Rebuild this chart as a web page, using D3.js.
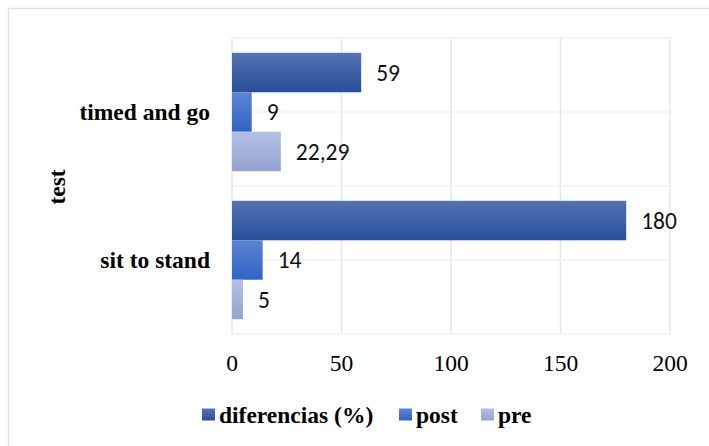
<!DOCTYPE html>
<html><head><meta charset="utf-8">
<script src="https://cdn.jsdelivr.net/npm/d3@7"></script>
<style>body{margin:0;background:#fff}svg{display:block}</style>
</head><body>
<svg id="c" width="709" height="446"></svg>
<script>
const categories = ["timed and go", "sit to stand"];
const seriesNames = ["diferencias (%)", "post", "pre"];
const diferencias = [59, 180];
const post = [9, 14];
const pre = [22.29, 5];
const labelText = [["59","9","22,29"],["180","14","5"]];
const xTicks = [0, 50, 100, 150, 200];

(function(){
const svg = d3.select("#c");
const defs = svg.append("defs");
const grads = [
  {id:"g0", top:"#5571b0", bot:"#284f9a"},
  {id:"g1", top:"#5d84d3", bot:"#2f63c6"},
  {id:"g2", top:"#b3c0e6", bot:"#93a2cf"}
];
grads.forEach(g=>{
  const lg = defs.append("linearGradient").attr("id",g.id).attr("x1",0).attr("y1",0).attr("x2",0).attr("y2",1);
  lg.append("stop").attr("offset","0%").attr("stop-color",g.top);
  lg.append("stop").attr("offset","100%").attr("stop-color",g.bot);
});

svg.append("path").attr("d","M8.5,446 L8.5,8.5 L709,8.5").attr("fill","none").attr("stroke","#dde2e8").attr("stroke-width",1.5);

const pl = 232, pr = 670, pt = 38, pb = 334;
const serif = "'Liberation Serif', 'Times New Roman', serif";
const x = d3.scaleLinear().domain([0,200]).range([pl,pr]);
const y = d3.scaleBand().domain(categories).range([pt,pb]);
const inner = d3.scaleBand().domain(seriesNames).range([0,y.bandwidth()]).paddingOuter(0.5*0.75).paddingInner(0);

const grid = svg.append("g");
xTicks.forEach(t=>{
  grid.append("line").attr("x1",x(t)).attr("x2",x(t)).attr("y1",pt).attr("y2",pb)
    .attr("stroke","#e3e7ec").attr("stroke-width",1.5);
});
[0,0.25,0.5,0.75,1].forEach(f=>{
  const yy = pt + f*(pb-pt);
  grid.append("line").attr("x1",pl).attr("x2",pr).attr("y1",yy).attr("y2",yy)
    .attr("stroke","#f0f2f4").attr("stroke-width",1.5);
});

const data = [diferencias, post, pre];
const bars = svg.append("g");
categories.forEach((c,ci)=>{
  seriesNames.forEach((s,si)=>{
    const v = data[si][ci];
    const y0 = y(c) + inner(s);
    bars.append("rect").attr("x",x(0)).attr("y",y0).attr("width",x(v)-x(0)).attr("height",inner.bandwidth())
      .attr("fill",`url(#g${si})`);
    svg.append("text").attr("x",x(v)+15).attr("y",y0+inner.bandwidth()/2)
      .attr("dy","0.35em").attr("font-family","Carlito, Calibri, 'Open Sans', sans-serif")
      .attr("font-size",23.5).attr("fill","#111").text(labelText[ci][si]);
  });
  svg.append("text").attr("x",210).attr("y",y(c)+y.bandwidth()/2).attr("dy","0.33em")
    .attr("text-anchor","end").attr("font-family",serif)
    .attr("font-weight","bold").attr("font-size",23.5).attr("fill","#000").text(c);
});

xTicks.forEach(t=>{
  svg.append("text").attr("x",x(t)).attr("y",363).attr("dy","0.35em").attr("text-anchor","middle")
    .attr("font-family",serif).attr("font-size",23.5).attr("fill","#000").text(t);
});

svg.append("text").attr("transform","translate(57,187) rotate(-90)").attr("dy","0.33em").attr("text-anchor","middle")
  .attr("font-family",serif).attr("font-weight","bold").attr("font-size",23.5).text("test");

const legendX = [202, 399, 481];
seriesNames.forEach((s,i)=>{
  svg.append("rect").attr("x",legendX[i]).attr("y",408.5).attr("width",13).attr("height",12).attr("fill",`url(#g${i})`);
  svg.append("text").attr("x",legendX[i]+17).attr("y",415).attr("dy","0.33em")
    .attr("font-family",serif).attr("font-weight","bold").attr("font-size",23.5).text(s);
});
})();
</script>
</body></html>
